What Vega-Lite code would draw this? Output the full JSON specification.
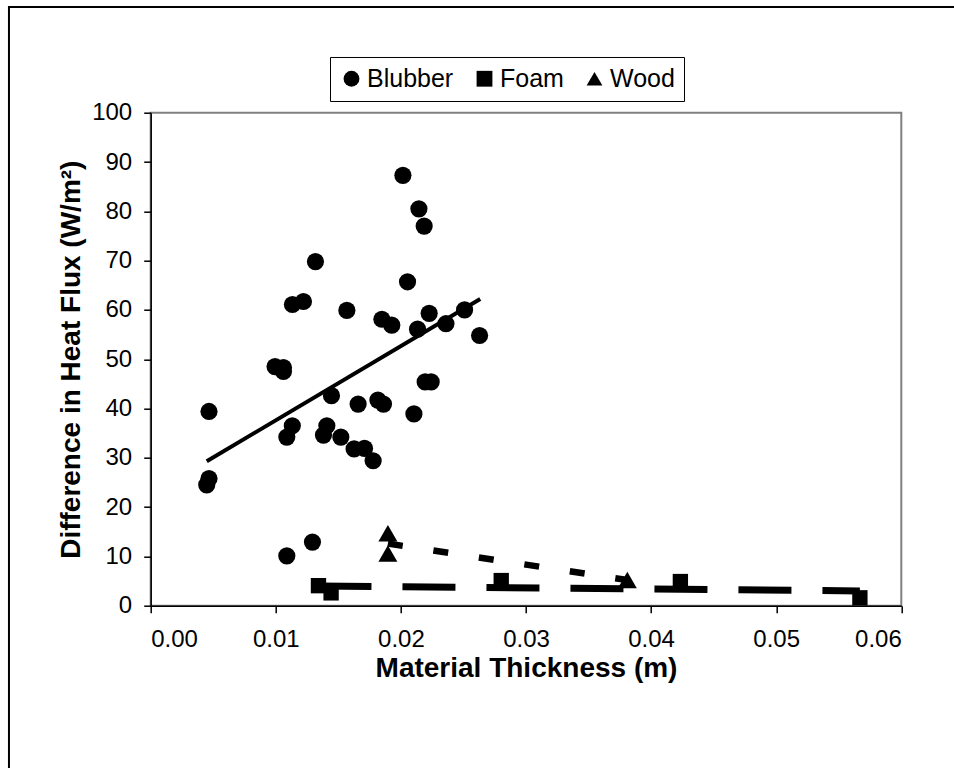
{
  "$schema": "https://vega.github.io/schema/vega-lite/v6.json",
  "width": 750.6,
  "height": 493,
  "autosize": {"type": "none"},
  "padding": {"left": 150.7, "top": 112.7, "right": 52.7, "bottom": 162.3},
  "background": "white",
  "config": {
    "font": "Liberation Sans",
    "view": {"stroke": "#808080", "strokeWidth": 2},
    "axis": {
      "grid": false,
      "domainColor": "black",
      "domainWidth": 1.5,
      "tickColor": "black",
      "tickSize": 7,
      "tickWidth": 1.5,
      "labelFont": "Liberation Sans",
      "labelFontSize": 24,
      "labelColor": "black",
      "titleFont": "Liberation Sans",
      "titleFontSize": 28,
      "titleFontWeight": "bold",
      "titleColor": "black"
    },
    "legend": {
      "labelFont": "Liberation Sans",
      "labelFontSize": 25,
      "labelColor": "black",
      "strokeColor": "black",
      "fillColor": "white",
      "padding": 9
    }
  },
  "datasets": {
    "points": [
      {"series": "Blubber", "thickness": 0.02016, "flux": 87.3},
      {"series": "Blubber", "thickness": 0.02144, "flux": 80.5},
      {"series": "Blubber", "thickness": 0.02186, "flux": 77.0},
      {"series": "Blubber", "thickness": 0.01317, "flux": 69.8},
      {"series": "Blubber", "thickness": 0.02053, "flux": 65.7},
      {"series": "Blubber", "thickness": 0.01133, "flux": 61.1},
      {"series": "Blubber", "thickness": 0.01221, "flux": 61.7},
      {"series": "Blubber", "thickness": 0.01568, "flux": 59.9},
      {"series": "Blubber", "thickness": 0.01848, "flux": 58.1},
      {"series": "Blubber", "thickness": 0.01927, "flux": 56.9},
      {"series": "Blubber", "thickness": 0.02226, "flux": 59.3},
      {"series": "Blubber", "thickness": 0.02509, "flux": 60.0},
      {"series": "Blubber", "thickness": 0.02133, "flux": 56.1},
      {"series": "Blubber", "thickness": 0.02360, "flux": 57.2},
      {"series": "Blubber", "thickness": 0.02629, "flux": 54.8},
      {"series": "Blubber", "thickness": 0.00994, "flux": 48.5},
      {"series": "Blubber", "thickness": 0.01061, "flux": 48.3},
      {"series": "Blubber", "thickness": 0.01061, "flux": 47.5},
      {"series": "Blubber", "thickness": 0.02194, "flux": 45.4},
      {"series": "Blubber", "thickness": 0.02242, "flux": 45.4},
      {"series": "Blubber", "thickness": 0.00466, "flux": 39.4},
      {"series": "Blubber", "thickness": 0.01445, "flux": 42.6},
      {"series": "Blubber", "thickness": 0.01658, "flux": 40.9},
      {"series": "Blubber", "thickness": 0.01816, "flux": 41.7},
      {"series": "Blubber", "thickness": 0.01861, "flux": 40.9},
      {"series": "Blubber", "thickness": 0.02104, "flux": 38.9},
      {"series": "Blubber", "thickness": 0.01132, "flux": 36.5},
      {"series": "Blubber", "thickness": 0.01088, "flux": 34.2},
      {"series": "Blubber", "thickness": 0.01408, "flux": 36.5},
      {"series": "Blubber", "thickness": 0.01381, "flux": 34.6},
      {"series": "Blubber", "thickness": 0.01520, "flux": 34.2},
      {"series": "Blubber", "thickness": 0.01626, "flux": 31.8},
      {"series": "Blubber", "thickness": 0.01709, "flux": 31.9},
      {"series": "Blubber", "thickness": 0.01778, "flux": 29.4},
      {"series": "Blubber", "thickness": 0.00466, "flux": 25.8},
      {"series": "Blubber", "thickness": 0.00448, "flux": 24.5},
      {"series": "Blubber", "thickness": 0.01088, "flux": 10.1},
      {"series": "Blubber", "thickness": 0.01293, "flux": 12.9},
      {"series": "Foam", "thickness": 0.01341, "flux": 4.06},
      {"series": "Foam", "thickness": 0.01442, "flux": 2.6},
      {"series": "Foam", "thickness": 0.02802, "flux": 5.1},
      {"series": "Foam", "thickness": 0.04234, "flux": 4.9},
      {"series": "Foam", "thickness": 0.05669, "flux": 1.6},
      {"series": "Wood", "thickness": 0.01896, "flux": 14.7},
      {"series": "Wood", "thickness": 0.01896, "flux": 10.6},
      {"series": "Wood", "thickness": 0.0381, "flux": 5.2}
    ],
    "trends": [
      {"series": "Blubber", "thickness": 0.00448, "flux": 29.3},
      {"series": "Blubber", "thickness": 0.02634, "flux": 62.2},
      {"series": "Foam", "thickness": 0.01341, "flux": 4.0},
      {"series": "Foam", "thickness": 0.05669, "flux": 3.0},
      {"series": "Wood", "thickness": 0.01896, "flux": 12.6},
      {"series": "Wood", "thickness": 0.0381, "flux": 5.2}
    ]
  },
  "layer": [
    {
      "data": {"values": [{}]},
      "mark": {"type": "rect", "filled": false, "stroke": "black", "strokeWidth": 2, "clip": false},
      "encoding": {
        "x": {"datum": -0.01133, "type": "quantitative", "scale": {"domain": [0, 0.06], "nice": false}},
        "x2": {"datum": 0.07},
        "y": {"datum": 121.44, "type": "quantitative", "scale": {"domain": [0, 100], "nice": false}},
        "y2": {"datum": -40}
      }
    },
    {
      "data": {"name": "points"},
      "transform": [{"filter": "datum.series === 'Blubber'"}],
      "mark": {"type": "point", "filled": true, "opacity": 1, "color": "black", "size": 295},
      "encoding": {
        "x": {
          "field": "thickness", "type": "quantitative",
          "scale": {"domain": [0, 0.06], "nice": false, "zero": true},
          "axis": {"values": [0, 0.01, 0.02, 0.03, 0.04, 0.05, 0.06], "format": ".2f", "labelPadding": 15, "titlePadding": 3, "title": "Material Thickness (m)"}
        },
        "y": {
          "field": "flux", "type": "quantitative",
          "scale": {"domain": [0, 100], "nice": false},
          "axis": {"values": [0, 10, 20, 30, 40, 50, 60, 70, 80, 90, 100], "format": "d", "labelPadding": 12, "titlePadding": 6, "title": "Difference in Heat Flux (W/m²)"}
        },
        "shape": {
          "field": "series", "type": "nominal",
          "scale": {"domain": ["Blubber", "Foam", "Wood"], "range": ["circle", "square", "triangle-up"]},
          "legend": {
            "title": null,
            "orient": "none",
            "legendX": 179.3,
            "legendY": -55.7,
            "direction": "horizontal",
            "symbolSize": 250,
            "symbolFillColor": "black",
            "symbolStrokeColor": "black",
            "labelOffset": 3,
            "columnPadding": 18
          }
        }
      }
    },
    {
      "data": {"name": "points"},
      "transform": [{"filter": "datum.series === 'Foam'"}],
      "mark": {"type": "point", "filled": true, "opacity": 1, "color": "black", "size": 235},
      "encoding": {
        "x": {"field": "thickness", "type": "quantitative"},
        "y": {"field": "flux", "type": "quantitative"},
        "shape": {"field": "series", "type": "nominal"}
      }
    },
    {
      "data": {"name": "points"},
      "transform": [{"filter": "datum.series === 'Wood'"}],
      "mark": {"type": "point", "filled": true, "opacity": 1, "color": "black", "size": 360},
      "encoding": {
        "x": {"field": "thickness", "type": "quantitative"},
        "y": {"field": "flux", "type": "quantitative"},
        "shape": {"field": "series", "type": "nominal"}
      }
    },
    {
      "data": {"name": "trends"},
      "transform": [{"filter": "datum.series === 'Blubber'"}],
      "mark": {"type": "line", "color": "black", "strokeWidth": 4, "strokeCap": "butt"},
      "encoding": {
        "x": {"field": "thickness", "type": "quantitative"},
        "y": {"field": "flux", "type": "quantitative"}
      }
    },
    {
      "data": {"name": "trends"},
      "transform": [{"filter": "datum.series === 'Foam'"}],
      "mark": {"type": "line", "color": "black", "strokeWidth": 7, "strokeCap": "butt", "strokeDash": [53, 31]},
      "encoding": {
        "x": {"field": "thickness", "type": "quantitative"},
        "y": {"field": "flux", "type": "quantitative"}
      }
    },
    {
      "data": {"name": "trends"},
      "transform": [{"filter": "datum.series === 'Wood'"}],
      "mark": {"type": "line", "color": "black", "strokeWidth": 6.5, "strokeCap": "butt", "strokeDash": [15, 31]},
      "encoding": {
        "x": {"field": "thickness", "type": "quantitative"},
        "y": {"field": "flux", "type": "quantitative"}
      }
    }
  ]
}
